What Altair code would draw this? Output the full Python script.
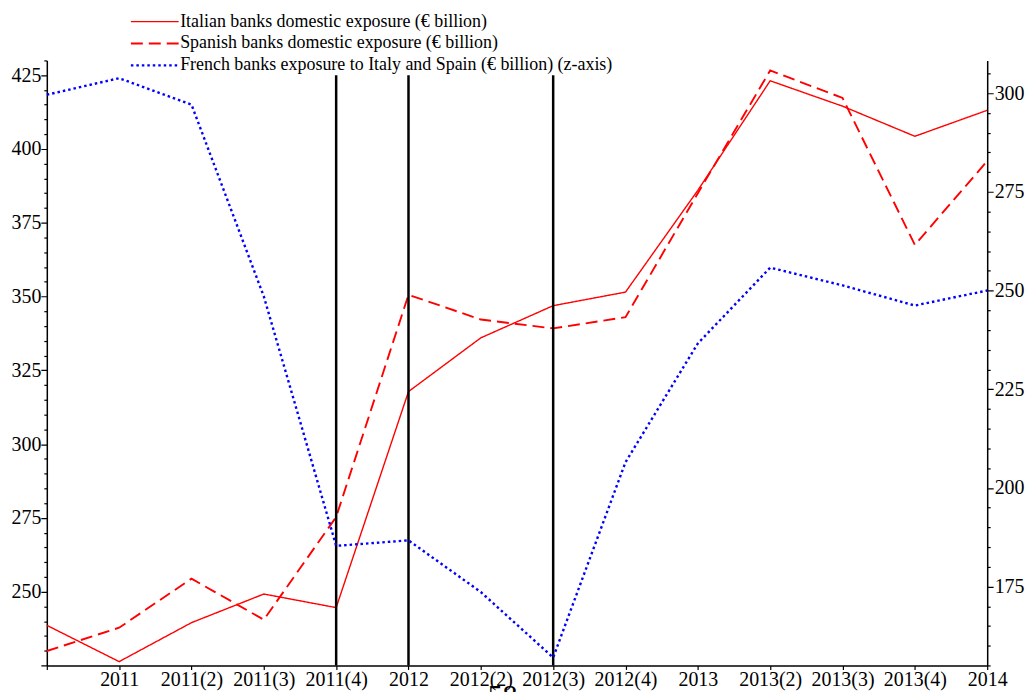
import altair as alt
import pandas as pd

quarters = ["2010(4)", "2011", "2011(2)", "2011(3)", "2011(4)", "2012", "2012(2)",
            "2012(3)", "2012(4)", "2013", "2013(2)", "2013(3)", "2013(4)", "2014"]
italian = [238.6, 226.3, 239.5, 249.2, 244.6, 317.8, 336.0, 346.9, 351.5, 386.0, 423.1, 414.5, 404.3, 413.1]
spanish = [229.9, 237.8, 254.4, 240.5, 275.3, 350.6, 342.2, 339.2, 343.0, 385.0, 426.6, 417.3, 367.5, 395.9]
french = [299.6, 303.8, 297.1, 248.5, 185.3, 186.7, 173.6, 157.0, 206.5, 236.6, 255.8, 251.3, 246.2, 250.0]
event_quarters = ["2011(4)", "2012", "2012(3)"]

series_names = [
    "Italian banks domestic exposure (€ billion)",
    "Spanish banks domestic exposure (€ billion)",
    "French banks exposure to Italy and Spain (€ billion) (z-axis)",
]
series_colors = ["#ff0000", "#ff0000", "#0000ff"]
series_dash = [[1, 0], [12, 6], [2.5, 3]]
series_width = [1.4, 2.4, 2.6]

rows = []
for name, vals in zip(series_names, [italian, spanish, french]):
    for q, v in zip(quarters, vals):
        rows.append({"quarter": q, "series": name, "value": v})
df = pd.DataFrame(rows)

rules_df = pd.DataFrame({"quarter": event_quarters, "top": [425] * 3, "bottom": [225] * 3})
page_df = pd.DataFrame({"t": ["58"]})

FONT = "Liberation Serif"

x_enc = alt.X(
    "quarter:O",
    sort=quarters,
    scale=alt.Scale(type="point", padding=0),
    axis=alt.Axis(
        title=None, labelAngle=0, tickSize=4, labelPadding=0,
        labelExpr="datum.value == '2010(4)' ? '' : datum.label",
    ),
)

minor_dash = {"condition": {"test": "datum.value % 25 !== 0", "value": [3, 30]}, "value": [1, 0]}

left_axis = alt.Axis(
    title=None, values=list(range(225, 431, 5)), tickSize=6, labelPadding=0, labelOverlap=False,
    labelExpr="datum.value % 25 === 0 && datum.value > 225 ? datum.label : ''", tickDash=minor_dash,
)
right_axis = alt.Axis(
    title=None, orient="right", values=list(range(155, 309, 5)), tickSize=6, labelPadding=1,
    labelOverlap=False,
    labelExpr="datum.value % 25 === 0 ? datum.label : ''", tickDash=minor_dash,
)
left_scale = alt.Scale(domain=[225, 430], nice=False, zero=False)

legend = alt.Legend(
    title=None, orient="none", legendX=83, legendY=-49, labelFont=FONT, labelFontSize=18,
    symbolType="stroke", symbolSize=2304, clipHeight=20, rowPadding=2, labelOffset=0, padding=0,
    labelLimit=600,
)

color_enc = alt.Color("series:N", scale=alt.Scale(domain=series_names, range=series_colors), legend=legend)
dash_enc = alt.StrokeDash("series:N", scale=alt.Scale(domain=series_names, range=series_dash), legend=legend)
width_enc = alt.StrokeWidth("series:N", scale=alt.Scale(domain=series_names, range=series_width), legend=legend)

left_lines = alt.Chart(df).transform_filter(
    alt.FieldOneOfPredicate(field="series", oneOf=series_names[:2])
).mark_line().encode(
    x=x_enc,
    y=alt.Y("value:Q", scale=left_scale, axis=left_axis),
    color=color_enc, strokeDash=dash_enc, strokeWidth=width_enc,
)

rules = alt.Chart(rules_df).mark_rule(color="black", strokeWidth=2.5).encode(
    x=alt.X("quarter:O", sort=quarters, scale=alt.Scale(type="point", padding=0)),
    y=alt.Y("top:Q", scale=left_scale, axis=left_axis),
    y2="bottom:Q",
)

left = alt.layer(left_lines, rules)

right = alt.Chart(df).transform_filter(
    alt.FieldEqualPredicate(field="series", equal=series_names[2])
).mark_line().encode(
    x=x_enc,
    y=alt.Y("value:Q", scale=alt.Scale(domain=[155, 308.3], nice=False, zero=False), axis=right_axis),
    color=color_enc, strokeDash=dash_enc, strokeWidth=width_enc,
)

page = alt.Chart(page_df).mark_text(font=FONT, fontSize=30, align="center", baseline="alphabetic", color="black").encode(
    text="t:N", x=alt.value(458), y=alt.value(648)
)

chart = alt.layer(left, right, page).resolve_scale(y="independent").properties(
    width=945, height=608,
    padding={"left": 39, "top": 51, "right": 40, "bottom": 25},
    autosize=alt.AutoSizeParams(type="none"),
).configure_view(stroke=None).configure_axis(
    domainColor="black", domainWidth=1.5, tickColor="black", tickWidth=1.2,
    labelColor="black", labelFont=FONT, labelFontSize=20, grid=False,
)

chart.save("out.html", embed_options={"renderer": "svg", "actions": False})
